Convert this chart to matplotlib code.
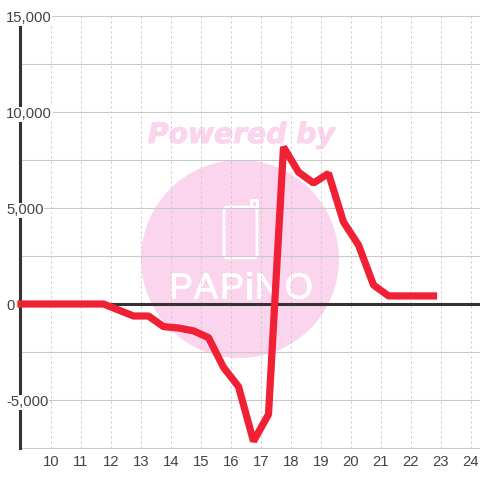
import matplotlib
matplotlib.use('Agg')
import matplotlib.pyplot as plt
import matplotlib.patheffects as pe
from matplotlib.patches import Circle, FancyBboxPatch

plt.rcParams['font.family'] = ['Liberation Sans', 'DejaVu Sans']

hours = [9, 9.75, 10.75, 11.75, 12.75, 13.25, 13.75, 14.25, 14.75, 15.25, 15.75, 16.25,
         16.75, 17.25, 17.75, 18.25, 18.75, 19.25, 19.75, 20.25, 20.75, 21.25, 21.75,
         22.25, 22.75]
values = [0, 0, 0, 0, -625, -625, -1180, -1250, -1400, -1750, -3300, -4300,
          -7150, -5750, 8180, 6870, 6300, 6800, 4270, 3070, 990, 420, 420,
          420, 420]
x_ticks = list(range(10, 25))
y_labels = [15000, 10000, 5000, 0, -5000]
logo_letters = ['P', 'A', 'P', 'i', 'N', 'O']
logo_x = [181, 206, 232, 249, 268, 299]

pink = '#fbd5ee'
dark = '#333333'

fig = plt.figure(figsize=(4.8, 4.8), dpi=100)
fig.patch.set_facecolor('white')

# watermark goes behind the chart, in pixels
wm = fig.add_axes([0, 0, 1, 1], zorder=0)
wm.set_xlim(0, 480)
wm.set_ylim(480, 0)
wm.axis('off')
wm.add_patch(Circle((240, 259), 99, color=pink, lw=0))
wm.text(241.5, 135, 'Powered by', family='DejaVu Sans', weight='bold', style='italic',
        fontsize=20.3, color=pink, ha='center', va='center',
        path_effects=[pe.withStroke(linewidth=0.8, foreground=pink)])
wm.add_patch(FancyBboxPatch((224, 207), 33, 51, boxstyle='round,pad=0,rounding_size=4',
                            fc='none', ec='white', lw=2))
wm.plot([251, 251, 256.5, 256.5], [207, 200, 200, 208], color='white', lw=2,
        solid_joinstyle='round')
for letter, lx in zip(logo_letters, logo_x):
    wm.text(lx, 289, letter, family='Liberation Sans', fontsize=26, color='white',
            ha='center', va='center',
            path_effects=[pe.withStroke(linewidth=0.6, foreground='white')])

ax = fig.add_axes([20 / 480, 32 / 480, 460 / 480, 432 / 480], zorder=1)
ax.patch.set_alpha(0)
ax.set_xlim(8.9667, 24.3)
ax.set_ylim(-7500, 15000)

for s in ['top', 'right', 'bottom']:
    ax.spines[s].set_visible(False)
ax.spines['left'].set_color(dark)
ax.spines['left'].set_linewidth(2.2)

ax.set_xticks(x_ticks)
ax.set_yticks(range(-7500, 15001, 2500))
ax.grid(True, axis='y', color='#c9c9c9', lw=0.8)
ax.grid(True, axis='x', color='#c9c9c9', lw=0.72, ls=(0, (2, 3)))
ax.set_axisbelow(True)
ax.tick_params(length=0, labelleft=False, labelsize=10.7, labelcolor='#444444', pad=5)
for line in ax.get_ygridlines():
    line.set_clip_on(False)

ax.axhline(0, color=dark, lw=2.2, zorder=2)

for v in y_labels:
    ax.annotate(f'{v:,}', (0, v), xycoords=ax.get_yaxis_transform(), xytext=(-14, -1),
                textcoords='offset pixels', ha='left', va='center_baseline', fontsize=10.7,
                color='#444444', annotation_clip=False, zorder=3,
                bbox=dict(fc='white', ec='none', pad=0.5))

ax.plot(hours, values, color='#f02035', lw=5.2, solid_joinstyle='bevel',
        solid_capstyle='projecting', zorder=4, clip_on=False)

fig.savefig('out.png', dpi=100)
